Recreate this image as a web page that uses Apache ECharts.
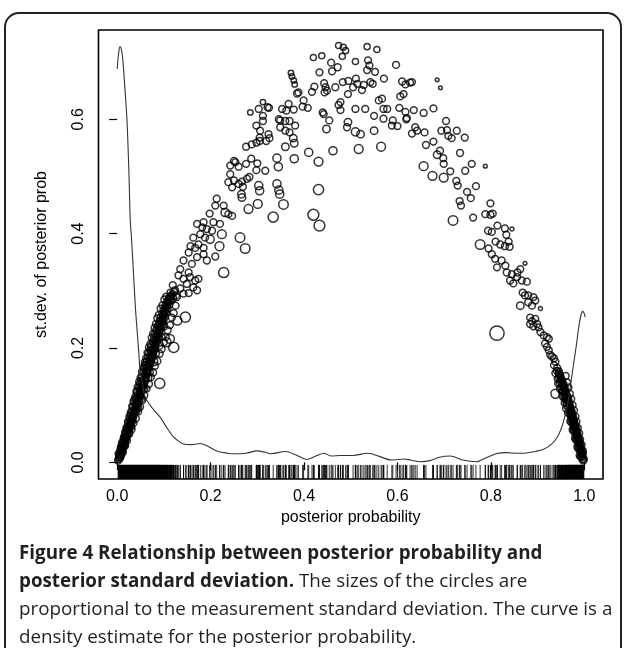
<!DOCTYPE html>
<html><head><meta charset="utf-8">
<script src="https://cdn.jsdelivr.net/npm/echarts@6/dist/echarts.min.js"></script>
<style>html,body{margin:0;padding:0;background:#fff}#c{width:624px;height:648px}</style>
</head><body><div id="c"></div>
<script>
// [posterior probability, st.dev. of posterior prob, relative measurement sd]
const archTop = [
[.474,.729,.9],[.484,.726,.9],[.489,.720,.9],[.535,.727,.9],[.556,.722,.9],
[.420,.708,.9],[.438,.711,.9],[.482,.710,.9],[.458,.699,1],[.472,.691,1],[.460,.684,1],
[.510,.701,.9],[.537,.703,1],[.540,.694,1],[.535,.686,1],[.552,.683,1],[.433,.682,1],
[.372,.681,.8],[.374,.675,.8],[.378,.668,.8],[.380,.661,.8],[.385,.645,1],[.388,.647,1],
[.422,.657,1],[.417,.648,1],[.443,.663,1],[.446,.656,1],[.444,.647,1],[.449,.650,1],[.467,.656,1],
[.483,.665,1],[.495,.667,1],[.511,.671,1],[.514,.662,1],[.505,.656,1],[.528,.660,1],[.542,.665,1],
[.547,.662,1],[.571,.671,1],[.524,.651,1],[.494,.644,1],[.478,.630,1],
[.399,.633,1],[.397,.622,1],[.408,.620,1],[.440,.612,1],[.442,.609,1],[.454,.598,1],[.448,.583,1.1],
[.474,.625,1],[.478,.616,1],[.494,.595,1.1],[.492,.586,1],[.510,.618,1],[.531,.618,1],[.550,.606,1],
[.560,.633,1],[.567,.636,1],[.570,.618,1],[.578,.618,1],[.570,.601,1],[.550,.580,1.1],[.510,.578,1.2],[.521,.574,1.1],
[.312,.630,.8],[.285,.612,.8],[.303,.618,1],[.322,.621,1],[.325,.620,1],[.353,.618,1],[.367,.627,1],
[.362,.615,1],[.378,.617,1],[.312,.606,1],[.312,.597,1],[.346,.600,1],[.349,.598,1],[.360,.597,1],
[.369,.597,1],[.381,.589,1],[.349,.586,1],[.360,.580,1],[.369,.577,1],[.298,.589,1],[.306,.580,1],
[.305,.568,1],[.324,.574,1],[.326,.567,1],[.319,.562,1],[.305,.562,1],[.298,.559,1],[.288,.556,1],
[.276,.552,1],[.377,.567,1.1],[.379,.558,1.1],[.360,.552,1.1]
];
const archRight = [
[.597,.695,1],[.610,.666,1],[.617,.661,1],[.627,.664,1],[.631,.665,1],[.685,.669,.55],[.692,.655,.55],
[.606,.640,1],[.613,.644,1],[.604,.620,1],[.617,.613,1],[.635,.616,1],[.656,.611,1],[.677,.619,1],
[.590,.598,1],[.588,.589,1],[.600,.588,1],[.619,.600,1],[.620,.602,1],[.638,.586,1],[.631,.575,1],
[.642,.580,1],[.658,.577,1],[.694,.580,1],[.706,.581,1],[.727,.580,1],[.704,.597,1],[.709,.571,1],
[.716,.567,1],[.744,.568,1],
[.661,.555,1],[.677,.561,1],[.691,.545,1],[.685,.538,1.1],[.698,.532,1],[.699,.522,1],[.734,.541,1],
[.713,.509,1],[.745,.510,1],[.759,.522,1],[.788,.518,.55],[.726,.492,1],[.729,.484,1],[.749,.473,1],
[.757,.462,1],[.768,.483,1],[.733,.457,1],[.736,.449,1],[.762,.428,1],[.799,.453,1],[.788,.434,1],
[.799,.433,1],[.804,.435,1],[.814,.414,1],[.830,.409,1],[.845,.408,.6],[.794,.405,1],[.802,.403,1],
[.833,.398,1],[.795,.374,1],[.810,.386,1],[.820,.381,1],[.830,.378,1],[.838,.386,1],[.840,.377,1],
[.802,.364,1],[.809,.356,1],[.823,.353,1],[.813,.341,1],[.831,.344,1],[.834,.332,1],[.845,.329,1],
[.857,.332,1],[.863,.338,1],[.856,.324,1],[.866,.318,1],[.877,.316,1],[.841,.318,1],[.848,.313,1],
[.873,.348,.55],[.868,.297,1],[.873,.292,1],[.880,.292,1],[.891,.289,1],[.863,.274,1.1],[.880,.280,1],
[.888,.274,1],[.895,.283,1],[.906,.269,.6],[.884,.253,1],[.888,.247,1],[.884,.242,1],[.895,.251,1],
[.899,.242,1],[.891,.238,1],[.902,.236,1],[.906,.228,1],[.913,.222,1],[.920,.219,1],[.924,.216,1],
[.916,.208,1],[.920,.202,1],[.924,.196,1],[.927,.188,1],[.931,.185,1],[.935,.182,1],[.938,.176,1],
[.935,.170,1],[.942,.165,1],[.938,.156,1],[.946,.159,1]
];
const archLeft = [
[.242,.519,1],[.253,.525,1],[.260,.517,1],[.250,.527,1],[.276,.522,1],[.287,.531,1],[.300,.523,1],
[.298,.511,1],[.317,.510,1],[.242,.504,1],[.238,.490,1],[.250,.493,1],[.260,.487,1],[.267,.491,1],
[.278,.496,1],[.283,.499,1],[.269,.482,1],[.266,.469,1.1],[.267,.463,1.1],[.303,.484,1.2],[.305,.475,1.2],
[.342,.487,1.2],[.346,.476,1.2],[.348,.469,1.2],[.246,.481,1],
[.213,.461,1],[.210,.449,1],[.228,.449,1],[.231,.437,1.2],[.238,.434,1],[.246,.431,1],[.198,.435,1],
[.185,.420,1],[.171,.417,1],[.182,.411,1],[.192,.408,1],[.203,.405,1],[.206,.420,1],[.220,.417,1],
[.178,.399,1],[.163,.393,1],[.188,.393,1],[.199,.390,1.2],[.174,.381,1],[.157,.378,1],[.167,.375,1],
[.185,.375,1],
[.185,.364,1],[.192,.353,1],[.210,.360,1],[.153,.367,1],[.142,.353,1],[.160,.347,1],[.171,.359,1],
[.135,.338,1],[.153,.332,1],[.156,.324,1],[.142,.321,1],[.167,.318,1],[.174,.321,1],[.131,.327,1],
[.149,.312,1],[.163,.306,1],[.171,.301,1],[.135,.304,1],[.119,.310,1],[.124,.301,1],[.142,.295,1],
[.153,.296,1],[.128,.289,1]
];
const largeCircles = [
[.410,.542,1.2],[.431,.526,1.3],[.462,.545,1.2],[.517,.548,1.3],[.565,.552,1.3],[.342,.532,1.2],
[.345,.517,1.2],[.379,.531,1.2],[.431,.477,1.5],[.420,.433,1.6],[.433,.414,1.6],[.356,.451,1.4],
[.334,.429,1.5],[.301,.452,1.3],[.281,.443,1.3],[.263,.393,1.4],[.274,.374,1.4],[.219,.378,1.3],
[.224,.399,1.3],[.656,.518,1.3],[.675,.501,1.3],[.699,.498,1.3],[.719,.423,1.4],[.777,.381,1.4],
[.228,.332,1.5],[.146,.254,1.5],[.121,.201,1.5],[.091,.138,1.5],[.113,.216,1.3],[.129,.248,1.3],
[.106,.210,1.3],[.813,.226,2.1],[.938,.120,1.3]
];
const bandLeft = [
[.002,.003,1],[.004,.009,1],[.003,.015,1],[.007,.011,1],[.006,.020,1],[.009,.017,1],[.008,.027,1],
[.012,.022,1],[.010,.033,1],[.014,.030,1],[.013,.038,1],[.017,.035,1],[.015,.045,1],[.019,.041,1],
[.018,.051,1],[.022,.047,1],[.020,.058,1],[.025,.052,1],[.023,.063,1],[.027,.060,1],[.024,.070,1],
[.029,.066,1],[.027,.076,1],[.032,.071,1],[.029,.083,1],[.034,.078,1],[.031,.090,1],[.037,.085,1],
[.034,.097,1],[.039,.091,1],[.036,.104,1],[.042,.097,1],[.039,.110,1],[.045,.103,1],[.041,.117,1],
[.047,.110,1],[.043,.124,1],[.050,.116,1],[.046,.130,1],[.052,.123,1],[.048,.137,1],[.055,.129,1],
[.051,.143,1],[.057,.136,1],[.053,.150,1],[.060,.142,1],[.056,.157,1],[.062,.149,1],[.058,.164,1],
[.065,.156,1],[.061,.170,1],[.067,.163,1],[.063,.177,1],[.070,.170,1],[.066,.184,1],[.072,.176,1],
[.068,.191,1],[.075,.183,1],[.071,.197,1],[.077,.190,1],[.073,.204,1],[.080,.197,1],[.076,.211,1],
[.082,.204,1],[.079,.218,1],[.085,.211,1],[.081,.225,1],[.088,.218,1],[.084,.232,1],[.090,.226,1],
[.087,.239,1],[.093,.233,1],[.090,.246,1],[.096,.240,1],[.093,.253,1],[.099,.247,1],[.096,.260,1],
[.102,.254,1],[.099,.267,1],[.105,.262,1],[.103,.274,1],[.108,.269,1],[.107,.281,1],[.112,.276,1],
[.111,.288,1],[.116,.283,1],[.016,.030,1],[.030,.062,1],[.045,.095,1],[.058,.128,1],[.070,.158,1],
[.083,.190,1],[.095,.220,1],[.060,.170,1.1],[.072,.196,1.1],[.085,.230,1.1],[.100,.238,1.1],
[.005,.006,1],[.008,.013,1],[.011,.019,1],[.010,.025,1],[.013,.028,1],[.016,.040,1],[.020,.044,1],
[.021,.053,1],[.024,.057,1],[.026,.065,1],[.028,.070,1],[.031,.075,1],[.033,.081,1],[.035,.088,1],
[.038,.094,1],[.040,.101,1],[.043,.106,1],[.044,.113,1],[.048,.120,1],[.049,.127,1],[.053,.133,1],
[.054,.140,1],[.058,.146,1],[.059,.153,1],[.063,.160,1],[.064,.167,1],[.068,.173,1],[.069,.180,1],
[.073,.186,1],[.074,.193,1],[.078,.200,1],[.079,.207,1],[.083,.214,1],[.084,.221,1],[.088,.228,1],
[.089,.236,1],[.092,.243,1],[.095,.250,1],[.098,.257,1],[.101,.264,1],[.104,.271,1],[.108,.278,1],
[.110,.285,1],[.114,.290,1],[.118,.294,1],[.122,.298,1],[.120,.287,1],[.126,.292,1],[.114,.297,1],
[.040,.090,1.1],[.052,.112,1.1],[.066,.148,1.1],[.078,.176,1.2],[.090,.205,1.2],
[.004,.014,1],[.008,.025,1],[.011,.035,1],[.014,.043,1],[.017,.053,1],[.020,.061,1],[.023,.071,1],
[.026,.080,1],[.029,.087,1],[.032,.098,1],[.035,.107,1],[.038,.113,1],[.041,.124,1],[.044,.132,1],
[.047,.141,1],[.050,.148,1],[.053,.158,1],[.056,.166,1],[.059,.175,1],[.062,.182,1],[.065,.192,1],
[.068,.201,1],[.071,.207,1],[.074,.218,1],[.077,.225,1],[.080,.235,1],[.083,.242,1],[.086,.252,1],
[.089,.258,1],[.093,.269,1],[.097,.275,1],[.101,.285,1],[.105,.290,1],
[.007,.009,1],[.012,.017,1],[.017,.029,1],[.021,.038,1],[.026,.050,1],[.031,.058,1],[.035,.069,1],
[.040,.077,1],[.045,.089,1],[.049,.097,1],[.054,.109,1],[.058,.117,1],[.063,.129,1],[.068,.137,1],
[.072,.149,1],[.077,.157,1],[.081,.169,1],[.086,.177,1],[.091,.190,1],[.095,.198,1],[.100,.210,1],
[.104,.219,1],[.108,.231,1],[.113,.240,1],[.117,.253,1],[.121,.261,1],[.125,.274,1],
[.003,.006,1],[.006,.014,1],[.009,.021,1],[.012,.029,1],[.015,.036,1],[.018,.044,1],[.021,.049,1],
[.023,.056,1],[.026,.062,1],[.028,.068,1],[.031,.073,1],[.033,.079,1],[.036,.086,1],[.038,.092,1],
[.041,.099,1],[.043,.104,1],[.046,.112,1],[.048,.117,1],[.051,.125,1],[.053,.131,1],[.056,.138,1],
[.058,.144,1],[.061,.152,1],[.063,.158,1],[.066,.165,1],[.068,.171,1],[.071,.178,1],[.073,.184,1],
[.076,.192,1],[.078,.198,1],[.081,.205,1],[.083,.211,1],[.086,.219,1],[.088,.225,1],[.091,.232,1],
[.093,.238,1],[.096,.245,1],[.098,.251,1],[.101,.258,1],[.103,.264,1],[.106,.272,1],[.109,.280,1],
[.113,.285,1],[.116,.291,1]
];
const bandRight = [
[.998,.003,1],[.996,.009,1],[.997,.015,1],[.993,.013,1],[.994,.022,1],[.991,.020,1],[.992,.029,1],
[.988,.027,1],[.990,.036,1],[.986,.034,1],[.988,.043,1],[.984,.041,1],[.985,.050,1],[.981,.048,1],
[.983,.057,1],[.979,.055,1],[.981,.064,1],[.977,.062,1],[.978,.071,1],[.975,.069,1],[.976,.078,1],
[.972,.076,1],[.974,.085,1],[.970,.083,1],[.971,.092,1],[.968,.090,1],[.969,.099,1],[.965,.097,1],
[.966,.106,1],[.962,.104,1],[.963,.113,1],[.960,.111,1],[.960,.120,1],[.957,.118,1],[.957,.127,1],
[.954,.125,1],[.953,.134,1],[.950,.132,1],[.950,.141,1],[.947,.139,1],[.946,.148,1],[.943,.146,1],
[.992,.010,1],[.987,.024,1],[.982,.040,1],[.977,.055,1],[.972,.070,1],[.967,.086,1],[.962,.100,1],
[.957,.112,1],[.952,.124,1],
[.999,.006,1],[.995,.016,1],[.993,.024,1],[.990,.031,1],[.987,.038,1],[.985,.045,1],[.983,.052,1],
[.980,.059,1],[.978,.066,1],[.976,.073,1],[.973,.080,1],[.971,.087,1],[.969,.094,1],[.967,.101,1],
[.964,.108,1],[.962,.116,1],[.959,.123,1],[.956,.130,1],[.954,.137,1],[.951,.145,1],[.948,.152,1],
[.945,.156,1],[.941,.160,1],
[.997,.020,1],[.994,.031,1],[.991,.040,1],[.989,.051,1],[.986,.060,1],[.983,.071,1],[.981,.080,1],
[.978,.091,1],[.975,.100,1],[.972,.111,1],[.969,.120,1],[.966,.131,1],[.963,.140,1],[.960,.151,1],
[.990,.012,1],[.985,.027,1],[.980,.042,1],[.975,.057,1],[.970,.072,1],[.965,.087,1],[.961,.094,1],
[.958,.104,1],[.953,.116,1],[.948,.128,1],[.944,.138,1],
[.996,.005,1],[.995,.011,1],[.993,.018,1],[.991,.025,1],[.989,.033,1],[.987,.040,1],[.985,.047,1],
[.983,.054,1],[.981,.060,1],[.979,.068,1],[.977,.075,1],[.975,.082,1],[.973,.089,1],[.970,.096,1],
[.968,.103,1],[.966,.110,1],[.963,.117,1],[.961,.124,1],[.958,.131,1],[.955,.138,1],[.952,.144,1],
[.949,.150,1],[.946,.154,1]
];
const densX = [0.000,0.003,0.006,0.009,0.012,0.016,0.021,0.025,0.028,0.031,0.039,0.046,0.049,0.053,0.060,
0.075,0.092,0.106,0.121,0.135,0.142,0.160,0.178,0.190,0.213,0.237,0.249,0.276,0.300,0.315,0.329,0.360,
0.383,0.406,0.428,0.442,0.459,0.478,0.505,0.535,0.545,0.563,0.587,0.613,0.628,0.649,0.670,0.690,0.713,
0.740,0.769,0.790,0.811,0.834,0.855,0.872,0.895,0.913,0.930,0.942,0.950,0.956,0.962,0.967,0.972,0.977,
0.983,0.988,0.993,0.997,1.000,1.002];
const densY = [0.688,0.715,0.727,0.722,0.705,0.660,0.598,0.510,0.423,0.388,0.271,0.195,0.160,0.143,0.114,
0.095,0.079,0.061,0.044,0.035,0.032,0.031,0.033,0.030,0.020,0.016,0.015,0.016,0.020,0.018,0.015,0.019,
0.013,0.005,0.012,0.016,0.011,0.012,0.012,0.016,0.015,0.010,0.004,0.006,0.004,0.001,0.003,0.009,0.011,
0.004,0.001,0.008,0.015,0.017,0.016,0.016,0.019,0.023,0.032,0.044,0.058,0.073,0.093,0.114,0.143,0.172,
0.205,0.236,0.258,0.264,0.260,0.254];
const xTicks = [0, 0.2, 0.4, 0.6, 0.8, 1.0];
const yTicks = [0, 0.2, 0.4, 0.6];

const pts = [].concat(archTop, archRight, archLeft, largeCircles, bandLeft, bandRight);
const rugX = pts.map(p => p[0]);
const X0 = -0.04, X1 = 1.04, Y0 = -0.0291, Y1 = 0.7561;
const chart = echarts.init(document.getElementById('c'), null, {renderer: 'canvas'});
const lab = {color: '#000', fontFamily: 'Liberation Sans', fontSize: 16};
chart.setOption({
  animation: false,
  backgroundColor: '#fff',
  grid: {left: 98.5, top: 30, right: 21, bottom: 169, show: true, borderColor: '#000', borderWidth: 1.6, backgroundColor: 'transparent'},
  xAxis: {type: 'value', min: X0, max: X1, splitLine: {show: false}, axisLine: {show: false},
    axisTick: {show: true, length: 8, customValues: xTicks, lineStyle: {color: '#000', width: 1.2}},
    axisLabel: Object.assign({customValues: xTicks, margin: 10, formatter: v => v.toFixed(1)}, lab),
    name: 'posterior probability', nameLocation: 'middle', nameGap: 31, nameTextStyle: lab},
  yAxis: {type: 'value', min: Y0, max: Y1, splitLine: {show: false}, axisLine: {show: false},
    axisTick: {show: true, length: 8, customValues: yTicks, lineStyle: {color: '#000', width: 1.2}},
    axisLabel: Object.assign({customValues: yTicks, margin: 12, rotate: 90, formatter: v => v.toFixed(1)}, lab),
    name: 'st.dev. of posterior prob', nameLocation: 'middle', nameGap: 49, nameRotate: 90, nameTextStyle: lab},
  series: [
    {type: 'custom', data: rugX.map(x => [x]), z: 1, silent: true,
      renderItem: (params, api) => {
        const a = api.coord([api.value(0), Y0]);
        const b = api.coord([api.value(0), -0.0045]);
        return {type: 'line', shape: {x1: a[0], y1: a[1], x2: b[0], y2: b[1]}, style: {stroke: '#000', lineWidth: 0.9, opacity: 0.9}};
      }},
    {type: 'scatter', data: pts.map(p => [p[0], p[1], p[2]]), z: 2, silent: true,
      symbol: 'circle', symbolSize: v => 6.8 * v[2],
      itemStyle: {color: 'rgba(0,0,0,0)', borderColor: '#000', borderWidth: 1.5}},
    {type: 'line', data: densX.map((x, i) => [x, densY[i]]), z: 3, silent: true, showSymbol: false, smooth: 0.3,
      lineStyle: {color: '#333', width: 1.1}}
  ],
  graphic: [
    {type: 'rect', z: 100, silent: true, shape: {x: 5, y: 13, width: 616, height: 680, r: 14},
      style: {fill: 'none', stroke: '#222', lineWidth: 2}},
    {type: 'text', left: 19, top: 544, z: 100, style: {text: 'Figure 4 Relationship between posterior probability and', font: 'bold 18.8px "Open Sans"', fill: '#231f20'}},
    {type: 'text', left: 19, top: 572, z: 100, style: {text: '{b|posterior standard deviation.} The sizes of the circles are', font: '18.8px "Open Sans"', fill: '#231f20',
      rich: {b: {fontWeight: 'bold', fontFamily: 'Open Sans', fontSize: 18.8, fill: '#231f20'}}}},
    {type: 'text', left: 19, top: 600, z: 100, style: {text: 'proportional to the measurement standard deviation. The curve is a', font: '18.8px "Open Sans"', fill: '#231f20'}},
    {type: 'text', left: 19, top: 628, z: 100, style: {text: 'density estimate for the posterior probability.', font: '18.8px "Open Sans"', fill: '#231f20'}}
  ]
});
</script></body></html>
